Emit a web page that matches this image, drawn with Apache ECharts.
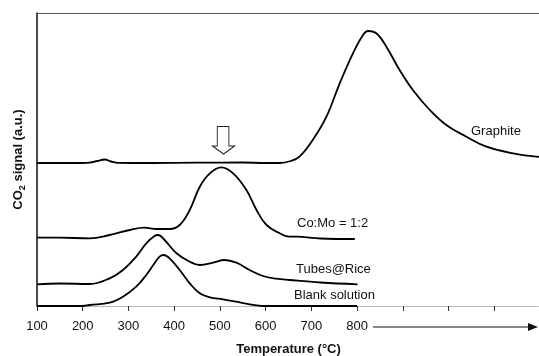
<!DOCTYPE html>
<html>
<head>
<meta charset="utf-8">
<script src="https://cdn.jsdelivr.net/npm/echarts@6/dist/echarts.min.js"></script>
<style>
html,body{margin:0;padding:0;background:#fff;}
#chart{width:539px;height:356px;}
</style>
</head>
<body>
<div id="chart"></div>
<script>
// Temperature (°C) values and CO2 signal (a.u.)
var graphiteT = [100, 150, 200, 215, 232, 248, 262, 278, 350, 450, 550, 600, 631, 655, 674, 703, 733, 762, 791, 813, 824, 842, 864, 893, 922, 959, 995, 1039, 1083, 1141, 1200];
var graphiteV = [143, 143, 143, 143.3, 145, 146.5, 144.5, 143.2, 143, 143.3, 143.5, 143, 143, 145, 149.3, 166, 189.3, 222.7, 252.7, 271, 275, 272.7, 259.3, 236, 216, 196, 181, 169.3, 159.3, 152.7, 149];

var comoT = [100, 150, 215, 259, 303, 335, 361, 390, 412, 434, 456, 478, 503, 529, 558, 580, 602, 631, 652, 667, 720, 795];
var comoV = [68.3, 68.3, 67.7, 71, 76, 78.3, 77, 77, 81, 96, 119.3, 132.7, 138.7, 132.7, 116, 96, 81, 72.7, 69.3, 69.3, 67.5, 67];

var tubesT = [100, 150, 215, 259, 288, 317, 339, 357, 365, 379, 405, 434, 456, 485, 510, 536, 565, 594, 623, 652, 720, 801];
var tubesV = [21.7, 22.5, 22, 27.7, 36, 49.3, 62.7, 70, 71, 66, 52.7, 44.3, 41, 43.3, 46, 43.3, 36, 30, 27.3, 26, 23.5, 21.7];

var blankT = [100, 150, 200, 215, 259, 288, 317, 339, 357, 368, 377, 390, 412, 434, 456, 478, 507, 536, 565, 594, 650, 800];
var blankV = [0, 0, 0, 1, 3.3, 9.3, 19.3, 31, 42.7, 49.3, 51, 47.7, 36, 22.7, 12.7, 8.7, 6.7, 4.3, 1.7, 0, 0, 0];

var arrowMark = [508, 165.7];

var xTicks = {min: 100, max: 1200, interval: 100, lastLabel: 800};

var seriesNames = ['Graphite', 'Co:Mo = 1:2', 'Tubes@Rice', 'Blank solution'];

function pairs(t, v) { return t.map(function (x, i) { return [x, v[i]]; }); }

var chart = echarts.init(document.getElementById('chart'));
var FONT = '"Liberation Sans", Arial, Helvetica, sans-serif';
var lineStyle = {color: '#000', width: 1.8};

function mkSeries(name, data) {
  return {
    name: name, type: 'line', data: data, smooth: 0.4,
    showSymbol: false, symbol: 'none', lineStyle: lineStyle,
    silent: true, animation: false, z: 3
  };
}

var series = [
  mkSeries(seriesNames[0], pairs(graphiteT, graphiteV)),
  mkSeries(seriesNames[1], pairs(comoT, comoV)),
  mkSeries(seriesNames[2], pairs(tubesT, tubesV)),
  mkSeries(seriesNames[3], pairs(blankT, blankV))
];
series[0].markPoint = {
  silent: true, animation: false,
  data: [{coord: arrowMark}],
  symbol: 'path://M4.7,0 L16.3,0 L16.3,19.3 L22,19.3 L11,27.3 L0,19.3 L4.7,19.3 Z',
  symbolSize: [22, 27.5],
  itemStyle: {color: '#fff', borderColor: '#222', borderWidth: 1},
  label: {show: false}
};

chart.setOption({
  animation: false,
  backgroundColor: '#fff',
  grid: {left: 37, top: 13, width: 503, bottom: 50, containLabel: false, outerBoundsMode: 'none'},
  xAxis: [{
    type: 'value', position: 'bottom',
    min: xTicks.min, max: xTicks.max, interval: xTicks.interval,
    name: 'Temperature (°C)', nameLocation: 'middle', nameGap: 37,
    nameTextStyle: {fontFamily: FONT, fontSize: 13, fontWeight: 'bold', color: '#111'},
    axisLine: {show: true, lineStyle: {color: '#aaa', width: 1, type: 'dotted'}},
    axisTick: {show: true, length: 5, lineStyle: {color: '#333', width: 1}},
    axisLabel: {
      fontFamily: FONT, fontSize: 13, color: '#111', margin: 14,
      formatter: function (v) { return v <= xTicks.lastLabel ? String(v) : ''; }
    },
    splitLine: {show: false}
  }, {
    type: 'value', position: 'top',
    min: xTicks.min, max: xTicks.max,
    axisLine: {show: true, lineStyle: {color: '#555', width: 1}},
    axisTick: {show: false}, axisLabel: {show: false}, splitLine: {show: false}
  }],
  yAxis: {
    type: 'value', min: 0, max: 293,
    name: 'CO{sub|2} signal (a.u.)', nameLocation: 'middle', nameGap: 10,
    nameRotate: 90,
    nameTextStyle: {
      fontFamily: FONT, fontSize: 13, fontWeight: 'bold', color: '#111',
      rich: {sub: {fontFamily: FONT, fontSize: 9, fontWeight: 'bold', color: '#111', verticalAlign: 'bottom', padding: [8, 0, 0, 0]}}
    },
    axisLine: {show: true, lineStyle: {color: '#111', width: 1.5}},
    axisTick: {show: false}, axisLabel: {show: false}, splitLine: {show: false}
  },
  series: series,
  graphic: [
    {type: 'text', left: 471, top: 125, style: {text: seriesNames[0], font: '13px ' + FONT, fill: '#111'}},
    {type: 'text', left: 297, top: 217, style: {text: seriesNames[1], font: '13px ' + FONT, fill: '#111'}},
    {type: 'text', left: 296, top: 263, style: {text: seriesNames[2], font: '13px ' + FONT, fill: '#111'}},
    {type: 'text', left: 294, top: 289, style: {text: seriesNames[3], font: '13px ' + FONT, fill: '#111'}},
    {type: 'line', shape: {x1: 373, y1: 327, x2: 530, y2: 327}, style: {stroke: '#111', lineWidth: 1.2}},
    {type: 'polygon', shape: {points: [[528, 323], [538, 327], [528, 331]]}, style: {fill: '#111'}}
  ]
});
</script>
</body>
</html>
